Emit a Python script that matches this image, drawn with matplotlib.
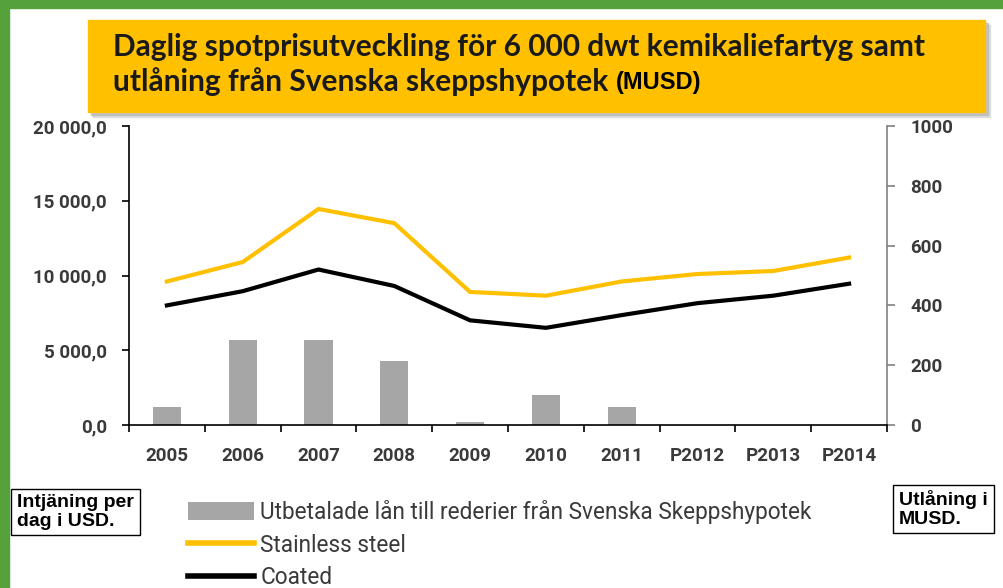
import matplotlib
matplotlib.use("Agg")
import matplotlib.pyplot as plt
from matplotlib.patches import Rectangle, Patch
from matplotlib.lines import Line2D
from matplotlib.text import Annotation
from matplotlib.ticker import FixedLocator, FuncFormatter

# ---------- data ----------
years = ["2005", "2006", "2007", "2008", "2009", "2010", "2011", "P2012", "P2013", "P2014"]
stainless = [9600, 10900, 14450, 13500, 8900, 8650, 9600, 10100, 10300, 11200]
coated = [8000, 8950, 10400, 9300, 7000, 6500, 7350, 8150, 8650, 9450]
loans = [60, 285, 285, 215, 10, 100, 60, 0, 0, 0]

left_ticks = [0, 5000, 10000, 15000, 20000]
right_ticks = [0, 200, 400, 600, 800, 1000]

ORANGE = "#ffc000"
GREY_BAR = "#a6a6a6"
GREEN = "#55a13b"
TXT = "#3a3a3a"
FONT = ["Roboto", "DejaVu Sans"]
TITLE_FONT = ["Lato", "DejaVu Sans"]
BOX_FONT = ["Liberation Sans", "DejaVu Sans"]

W, H = 1004, 588
fig = plt.figure(figsize=(W / 100, H / 100), dpi=100)
fig.patch.set_facecolor("white")


def px(x0, y0, x1, y1):
    """pixel box (top-left origin) -> (x, y, w, h) in figure fraction"""
    return (x0 / W, 1 - y1 / H, (x1 - x0) / W, (y1 - y0) / H)


def add_rect(box, **kw):
    fig.patches.append(Rectangle(box[:2], box[2], box[3], transform=fig.transFigure, **kw))


# green frame
add_rect(px(0, 0, W, 8), color=GREEN, zorder=0)
add_rect(px(0, 0, 9, H), color=GREEN, zorder=0)

# title box with a soft shadow
add_rect(px(93, 25, 990, 117), color="#d0d0d0", alpha=0.6, zorder=1)
add_rect(px(91, 23, 988, 115), color="#b0b0b0", alpha=0.6, zorder=1)
add_rect(px(88, 20, 985, 112), color=ORANGE, zorder=2)

fig.text(113 / W, 1 - 47 / H, "Daglig spotprisutveckling för 6 000 dwt kemikaliefartyg samt",
         family=TITLE_FONT, weight="bold", fontsize=21.5, color="#1a1a1a",
         va="center", ha="left", zorder=3)
t2 = fig.text(113 / W, 1 - 82 / H, "utlåning från Svenska skeppshypotek ",
              family=TITLE_FONT, weight="bold", fontsize=21.5, color="#1a1a1a",
              va="center", ha="left", zorder=3)
fig.add_artist(Annotation("(MUSD)", xy=(1, 0.1), xycoords=t2, va="bottom", ha="left",
                          family=BOX_FONT, weight="bold", fontsize=17, color="black",
                          zorder=3))

# ---------- axes ----------
ax = fig.add_axes(px(129, 126, 887, 425))
ax2 = ax.twinx()
x = list(range(len(years)))

ax2.bar(x, loans, width=0.37, color=GREY_BAR, zorder=1)
ax.plot(x, stainless, color=ORANGE, lw=3, zorder=3)
ax.plot(x, coated, color="black", lw=3, zorder=3)
ax.set_zorder(ax2.get_zorder() + 1)
ax.patch.set_visible(False)

ax.set_xlim(-0.5, len(years) - 0.5)
ax.set_ylim(0, 20000)
ax2.set_ylim(0, 1000)

for a in (ax, ax2):
    a.spines["top"].set_visible(False)
ax.spines["right"].set_visible(False)
ax2.spines["left"].set_visible(False)
ax2.spines["bottom"].set_visible(False)
for s in ("left", "bottom"):
    ax.spines[s].set_color("black")
    ax.spines[s].set_linewidth(1.2)
ax2.spines["right"].set_color("#808080")
ax2.spines["right"].set_linewidth(1.2)

ax.yaxis.set_major_locator(FixedLocator(left_ticks))
ax.yaxis.set_major_formatter(FuncFormatter(
    lambda v, p: f"{v:,.1f}".replace(",", " ").replace(".", ",")))
ax2.yaxis.set_major_locator(FixedLocator(right_ticks))

ax.set_xticks(x)
ax.set_xticklabels(years)
ax.set_xticks([i - 0.5 for i in range(len(years) + 1)], minor=True)
ax.tick_params(axis="x", which="major", length=0, pad=16)
ax.tick_params(axis="x", which="minor", length=5, width=1.2, color="black")
ax.tick_params(axis="y", length=5, width=1.2, color="black", pad=11)
ax2.tick_params(axis="y", length=6, width=1.2, color="#808080", pad=11)

for lab in ax.get_xticklabels() + ax.get_yticklabels() + ax2.get_yticklabels():
    lab.set_family(FONT)
    lab.set_fontweight("bold")
    lab.set_fontsize(13.5)
    lab.set_color(TXT)

# ---------- legend ----------
handles = [Patch(facecolor=GREY_BAR, edgecolor="none"),
           Line2D([], [], color=ORANGE, lw=4),
           Line2D([], [], color="black", lw=4)]
labels = ["Utbetalade lån till rederier från Svenska Skeppshypotek",
          "Stainless steel", "Coated"]
leg = fig.legend(handles, labels, loc="upper left", bbox_to_anchor=(188 / W, 1 - 500 / H),
                 frameon=False, handlelength=2.9, handleheight=0.85, handletextpad=0.3,
                 labelspacing=0.42, borderaxespad=0, borderpad=0,
                 prop={"family": FONT, "size": 16.3})
for t in leg.get_texts():
    t.set_color(TXT)

# axis unit boxes
box = dict(boxstyle="square,pad=0.3", facecolor="white", edgecolor="black", lw=1)
fig.text(17 / W, 1 - 512 / H, "Intjäning per\ndag i USD.", family=BOX_FONT,
         weight="bold", fontsize=14, va="center", ha="left", linespacing=1.1, bbox=box)
fig.text(899 / W, 1 - 509 / H, "Utlåning i\nMUSD.", family=BOX_FONT,
         weight="bold", fontsize=14, va="center", ha="left", linespacing=1.1, bbox=box)

fig.savefig("out.png", dpi=100)
